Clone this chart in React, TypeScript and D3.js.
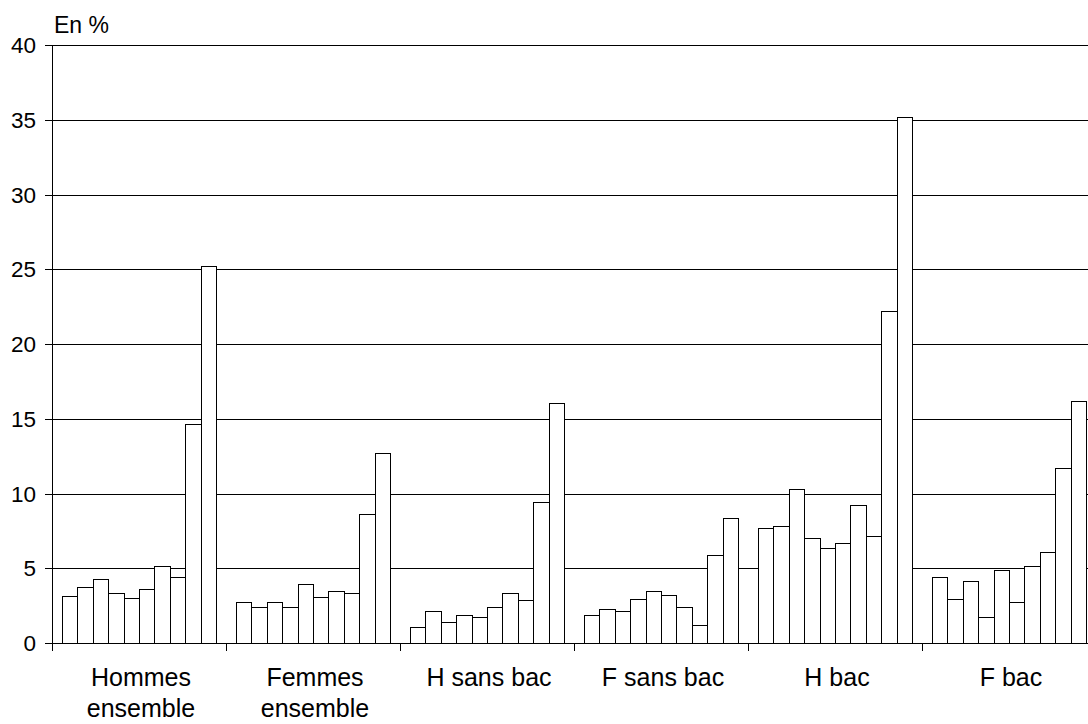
import React from "react";
import * as d3 from "d3";

// Population groups shown on the x axis (label lines)
const groups: string[][] = [
  ["Hommes", "ensemble"],
  ["Femmes", "ensemble"],
  ["H sans bac"],
  ["F sans bac"],
  ["H bac"],
  ["F bac"],
];

// Ten bars per group, in %
const hommesEnsemble = [3.17, 3.77, 4.27, 3.33, 3.04, 3.62, 5.14, 4.4, 14.67, 25.25];
const femmesEnsemble = [2.77, 2.43, 2.77, 2.43, 3.95, 3.05, 3.48, 3.35, 8.64, 12.73];
const hSansBac = [1.07, 2.14, 1.41, 1.88, 1.72, 2.41, 3.35, 2.9, 9.4, 16.05];
const fSansBac = [1.88, 2.28, 2.14, 2.92, 3.48, 3.21, 2.43, 1.21, 5.91, 8.37];
const hBac = [7.7, 7.85, 10.29, 6.99, 6.36, 6.7, 9.26, 7.15, 22.2, 35.19];
const fBac = [4.41, 2.93, 4.16, 1.72, 4.88, 2.75, 5.15, 6.09, 11.68, 16.22];

const seriesByGroup = [hommesEnsemble, femmesEnsemble, hSansBac, fSansBac, hBac, fBac];

const yTicks = [0, 5, 10, 15, 20, 25, 30, 35, 40];
const yUnit = "En %";

const W = 1088;
const H = 724;
const left = 52;
const groupW = 174;
const right = left + groupW * groups.length;
const top = 45;
const bottom = 643;
const font = "'Liberation Sans', Arial, sans-serif";

export default function App() {
  const x = d3
    .scaleBand<number>()
    .domain(d3.range(groups.length))
    .range([left, right])
    .padding(0);
  const inner = d3
    .scaleBand<number>()
    .domain(d3.range(10))
    .range([9.7, groupW - 9.7])
    .padding(0);
  const y = d3.scaleLinear().domain([0, 40]).range([bottom, top]);

  return (
    <svg
      width={W}
      height={H}
      style={{ position: "absolute", left: 0, top: 0, background: "#fff" }}
      fontFamily={font}
    >
      {/* horizontal gridlines */}
      {yTicks.map((t) => (
        <line
          key={`g${t}`}
          x1={left}
          x2={right}
          y1={Math.round(y(t)) + 0.5}
          y2={Math.round(y(t)) + 0.5}
          stroke="#000"
          strokeWidth={1}
        />
      ))}
      {/* y ticks + labels */}
      {yTicks.map((t) => (
        <g key={`t${t}`}>
          <line
            x1={45}
            x2={left}
            y1={Math.round(y(t)) + 0.5}
            y2={Math.round(y(t)) + 0.5}
            stroke="#000"
          />
          <text
            x={36}
            y={y(t)}
            dy="0.36em"
            textAnchor="end"
            fontSize={22.5}
            fill="#000"
          >
            {t}
          </text>
        </g>
      ))}
      <text x={54} y={33} fontSize={23} fill="#000">
        {yUnit}
      </text>

      {/* bars */}
      {seriesByGroup.map((vals, gi) => (
        <g key={`grp${gi}`} transform={`translate(${x(gi)},0)`}>
          {vals.map((v, i) => (
            <rect
              key={i}
              x={Math.round(inner(i)!) + 0.5}
              y={Math.round(y(v)) + 0.5}
              width={Math.round(inner(i)! + inner.bandwidth()) - Math.round(inner(i)!)}
              height={Math.round(y(0)) - Math.round(y(v))}
              fill="#fff"
              stroke="#000"
              strokeWidth={1}
            />
          ))}
        </g>
      ))}

      {/* y axis line */}
      <line x1={left + 0.5} x2={left + 0.5} y1={top} y2={bottom + 8} stroke="#000" />
      {/* x axis baseline */}
      <line x1={left} x2={right} y1={bottom + 0.5} y2={bottom + 0.5} stroke="#000" />
      {/* group separators */}
      {d3.range(1, groups.length + 1).map((i) => (
        <line
          key={`s${i}`}
          x1={Math.round(left + i * groupW) + 0.5}
          x2={Math.round(left + i * groupW) + 0.5}
          y1={bottom}
          y2={bottom + 8}
          stroke="#000"
        />
      ))}
      {/* group labels */}
      {groups.map((lines, gi) => (
        <text
          key={`l${gi}`}
          x={x(gi)! + x.bandwidth() / 2 + 2}
          y={686}
          textAnchor="middle"
          fontSize={25}
          fill="#000"
        >
          {lines.map((ln, li) => (
            <tspan key={li} x={x(gi)! + x.bandwidth() / 2 + 2} dy={li === 0 ? 0 : 31}>
              {ln}
            </tspan>
          ))}
        </text>
      ))}
    </svg>
  );
}
